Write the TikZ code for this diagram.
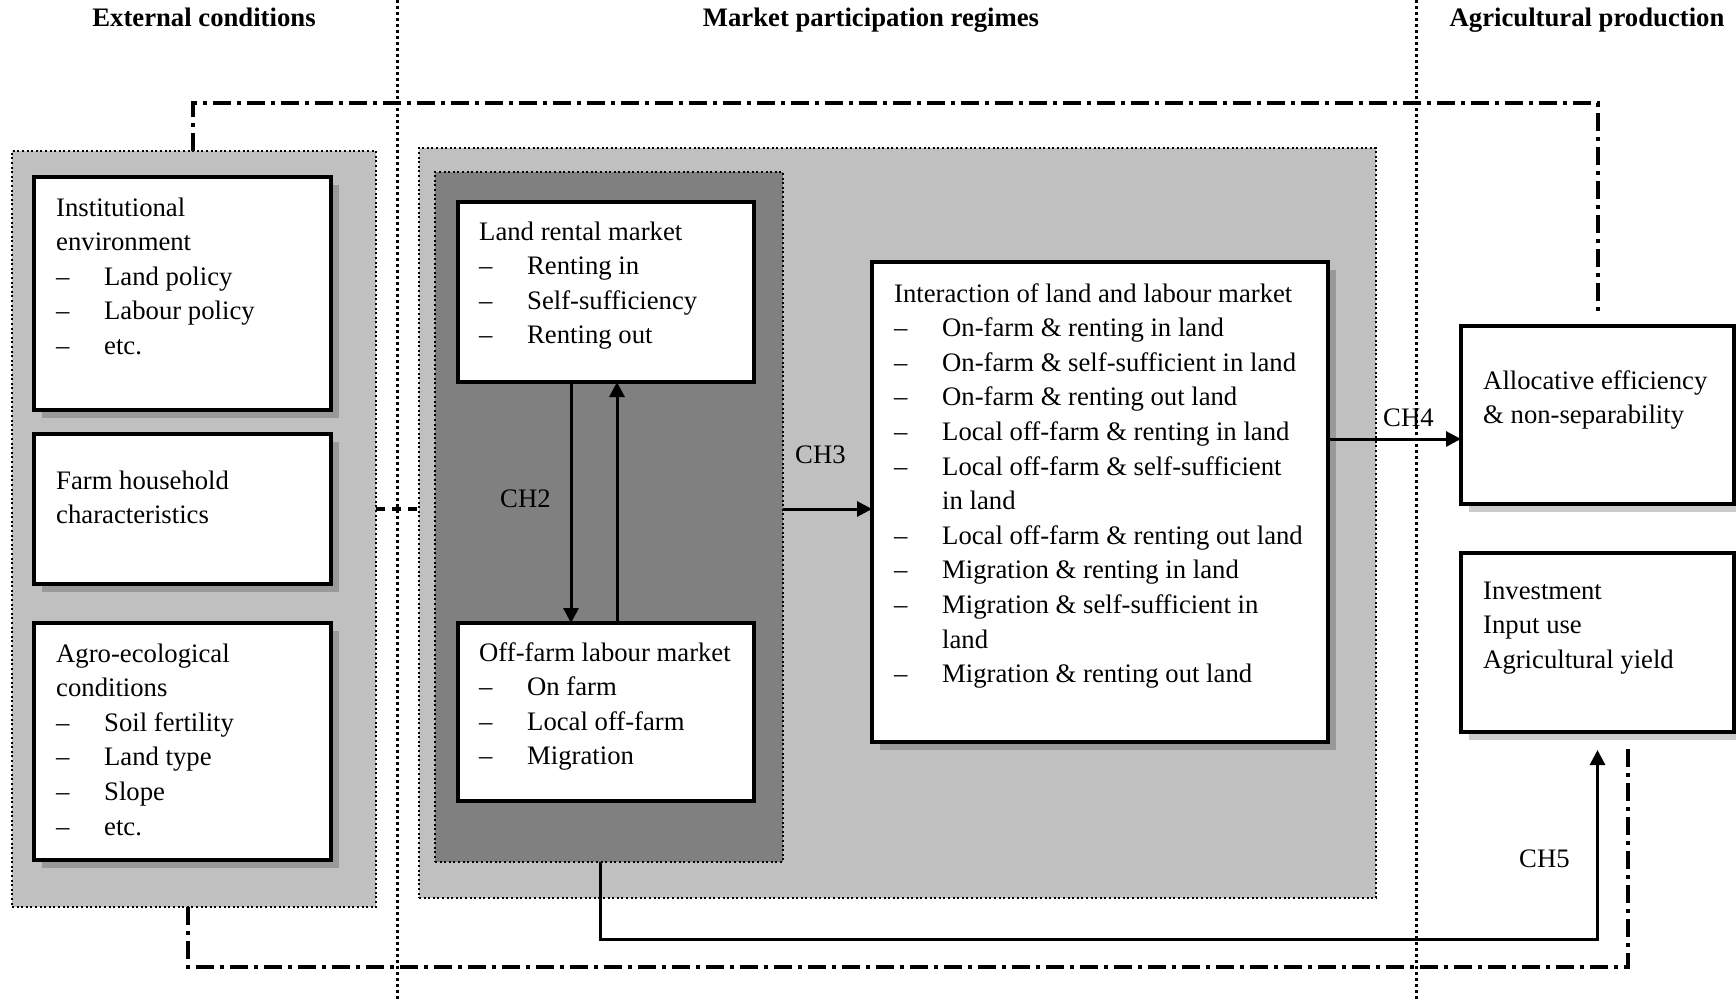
\documentclass[tikz,border=0pt]{standalone}
\usepackage{fontspec}
\setmainfont{Liberation Serif}
\usetikzlibrary{arrows.meta,shadows,calc}
\newcommand\bodyfnt{\fontsize{26.7pt}{34.6pt}\selectfont}
\newcommand\dashitem[1]{\makebox[48pt][l]{\textendash}#1}
\newcommand\contline[1]{\hspace*{48pt}#1}
\definecolor{lightg}{HTML}{C0C0C0}
\definecolor{darkg}{HTML}{808080}
\tikzset{
  region/.style={draw=black, line width=2pt, dash pattern=on 2pt off 2.6pt, inner sep=0pt, outer sep=0pt, anchor=north west},
  wbox/.style={draw=black, fill=white, line width=3.5pt, inner sep=0pt, outer sep=0pt, anchor=north west},
  shbox/.style={wbox, drop shadow={shadow xshift=8pt, shadow yshift=-8pt, fill=black, opacity=0.2}},
  txt/.style={anchor=base west, inner sep=0pt, font=\bodyfnt},
  hdr/.style={anchor=base, inner sep=0pt, font=\bodyfnt\bfseries},
  sep/.style={line width=3pt, dash pattern=on 3pt off 3pt},
  dashdot/.style={line width=4pt, dash pattern=on 18pt off 6pt on 4pt off 6pt},
  shortdash/.style={line width=4pt, dash pattern=on 9pt off 7pt},
  arr/.style={line width=3pt, -{Triangle[length=15pt,width=15pt]}},
  plain/.style={line width=3pt}
}
\begin{document}
\begin{tikzpicture}[x=1pt,y=-1pt]
\useasboundingbox (0,0) rectangle (1736,999);
\fill[white] (0,0) rectangle (1736,999);

% column separators
\draw[sep] (397,0) -- (397,999);
\draw[sep] (1416,0) -- (1416,999);

% headers
\node[hdr] (h1) at (204,26) {External conditions};
\node[hdr] (h2) at (871,26) {Market participation regimes};
\node[hdr] (h3) at (1587,26) {Agricultural production};

% regions
\node[region, fill=lightg, minimum width=364pt, minimum height=756pt] (leftbox) at (12,151) {};
\node[region, fill=lightg, minimum width=957pt, minimum height=750pt] (midbox) at (419,148) {};
\node[region, fill=darkg, minimum width=348pt, minimum height=690pt] (darkbox) at (435,172) {};

% left boxes
\node[shbox, minimum width=297pt, minimum height=233pt] (inst) at (34,177) {};
\node[shbox, minimum width=297pt, minimum height=150pt] (farm) at (34,434) {};
\node[shbox, minimum width=297pt, minimum height=237pt] (agro) at (34,623) {};

\node[txt] (tinst) at (56,216) {\parbox[t]{270pt}{Institutional\\ environment\\ \dashitem{Land policy}\\ \dashitem{Labour policy}\\ \dashitem{etc.}}};
\node[txt] (tfarm) at (56,489) {\parbox[t]{270pt}{Farm household\\ characteristics}};
\node[txt] (tagro) at (56,662) {\parbox[t]{270pt}{Agro-ecological\\ conditions\\ \dashitem{Soil fertility}\\ \dashitem{Land type}\\ \dashitem{Slope}\\ \dashitem{etc.}}};

% market boxes
\node[wbox, minimum width=296pt, minimum height=180pt] (land) at (458,202) {};
\node[wbox, minimum width=296pt, minimum height=178pt] (off) at (458,623) {};
\node[txt] (tland) at (479,240) {\parbox[t]{270pt}{Land rental market\\ \dashitem{Renting in}\\ \dashitem{Self-sufficiency}\\ \dashitem{Renting out}}};
\node[txt] (toff) at (479,661) {\parbox[t]{270pt}{Off-farm labour market\\ \dashitem{On farm}\\ \dashitem{Local off-farm}\\ \dashitem{Migration}}};

\node[shbox, minimum width=456pt, minimum height=480pt] (inter) at (872,262) {};
\node[txt] (tinter) at (894,302) {\parbox[t]{430pt}{Interaction of land and labour market\\
\dashitem{On-farm \& renting in land}\\
\dashitem{On-farm \& self-sufficient in land}\\
\dashitem{On-farm \& renting out land}\\
\dashitem{Local off-farm \& renting in land}\\
\dashitem{Local off-farm \& self-sufficient}\\
\contline{in land}\\
\dashitem{Local off-farm \& renting out land}\\
\dashitem{Migration \& renting in land}\\
\dashitem{Migration \& self-sufficient in}\\
\contline{land}\\
\dashitem{Migration \& renting out land}}};

% production boxes
\node[shbox, minimum width=273pt, minimum height=178pt] (alloc) at (1461,326) {};
\node[shbox, minimum width=273pt, minimum height=179pt] (invest) at (1461,553) {};
\node[txt] (talloc) at (1483,389) {\parbox[t]{250pt}{Allocative efficiency\\ \& non-separability}};
\node[txt] (tinvest) at (1483,599) {\parbox[t]{250pt}{Investment\\ Input use\\ Agricultural yield}};

% helper coordinates
\coordinate (c0) at (400,509);
\coordinate (c2a) at (571,500);
\coordinate (c2b) at (617,500);
\coordinate (c3) at (820,509);
\coordinate (c4) at (1400,439);
\coordinate (c5) at (1597.5,939);

% dash-dot feedback lines
\draw[dashdot] ([xshift=-1pt]leftbox.north) -- ++(0,-48) -| ([yshift=10pt]alloc.north);
\draw[dashdot] ([xshift=-6pt]leftbox.south) -- ++(0,60) -| ([xshift=30.5pt,yshift=-15pt]invest.south);
\draw[shortdash] (leftbox.east |- c0) -- (midbox.west |- c0);

% arrows
\draw[arr] (land.south -| c2a) -- (off.north -| c2a);
\draw[arr] (off.north -| c2b) -- (land.south -| c2b);
\draw[arr] (darkbox.east |- c3) -- (inter.west |- c3);
\draw[arr] (inter.east |- c4) -- (alloc.west |- c4);
\draw[arr] ([xshift=-9pt]darkbox.south) |- (c5) -- ([yshift=-18pt]invest.south);

% labels
\node[txt] (ch2) at (500,507) {CH2};
\node[txt] (ch3) at (795,463) {CH3};
\node[txt] (ch4) at (1383,426) {CH4};
\node[txt] (ch5) at (1519,867) {CH5};
\end{tikzpicture}
\end{document}
